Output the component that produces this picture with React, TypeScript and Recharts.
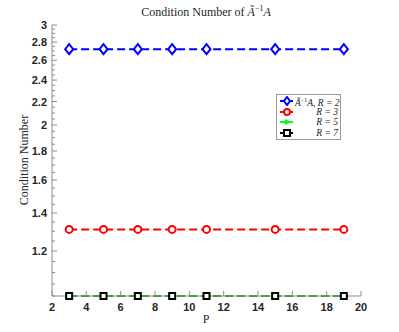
import React from 'react';
import { LineChart, Line, XAxis, YAxis } from 'recharts';

const pValues = [3, 5, 7, 9, 11, 15, 19];
const condR2 = [2.72, 2.72, 2.72, 2.72, 2.72, 2.72, 2.72];
const condR3 = [1.31, 1.31, 1.31, 1.31, 1.31, 1.31, 1.31];
const condR5 = [1.0, 1.0, 1.0, 1.0, 1.0, 1.0, 1.0];
const condR7 = [1.0, 1.0, 1.0, 1.0, 1.0, 1.0, 1.0];

const xTicks = [2, 4, 6, 8, 10, 12, 14, 16, 18, 20];
const yMajorTicks = [1.2, 1.4, 1.6, 1.8, 2, 2.2, 2.4, 2.6, 2.8, 3];
const yMinorTicks: number[] = [];
for (let i = 0; i <= 40; i++) yMinorTicks.push(Math.round((1 + i * 0.05) * 100) / 100);

const data = pValues.map((p, i) => ({
  p,
  r2: condR2[i],
  r3: condR3[i],
  r5: condR5[i],
  r7: condR7[i],
}));

const AXIS = '#8c8c8c';
const TICK_TEXT = '#262626';
const DASH = '8 4';

const isMajor = (v: number) => yMajorTicks.some((m) => Math.abs(m - v) < 1e-6);

function LeftTick({ x, y, payload }: any) {
  const major = isMajor(payload.value);
  return (
    <g>
      <line x1={x} x2={x + (major ? 5 : 3)} y1={y} y2={y} stroke={AXIS} />
      {major && (
        <text x={x - 5} y={y + 4} textAnchor="end" fontSize={11} fontWeight="bold" fill={TICK_TEXT} fontFamily="Liberation Sans, Arial">
          {payload.value}
        </text>
      )}
    </g>
  );
}

function RightTick({ x, y, payload }: any) {
  const major = isMajor(payload.value);
  return <line x1={x} x2={x - (major ? 5 : 3)} y1={y} y2={y} stroke={AXIS} />;
}

function BottomTick({ x, y, payload }: any) {
  return (
    <g>
      <line x1={x} x2={x} y1={y} y2={y - 5} stroke={AXIS} />
      <text x={x} y={y + 15} textAnchor="middle" fontSize={11} fontWeight="bold" fill={TICK_TEXT} fontFamily="Liberation Sans, Arial">
        {payload.value}
      </text>
    </g>
  );
}

function TopTick({ x, y }: any) {
  return <line x1={x} x2={x} y1={y} y2={y + 5} stroke={AXIS} />;
}

function DiamondDot({ cx, cy }: any) {
  return (
    <polygon
      key={`d-${cx}`}
      points={`${cx},${cy - 5} ${cx + 4},${cy} ${cx},${cy + 5} ${cx - 4},${cy}`}
      fill="#fff"
      stroke="#0000ff"
      strokeWidth={2}
    />
  );
}

function CircleDot({ cx, cy }: any) {
  return <circle key={`c-${cx}`} cx={cx} cy={cy} r={3.5} fill="#fff" stroke="#ff0000" strokeWidth={2} />;
}

function TriDot({ cx, cy }: any) {
  return (
    <polygon key={`t-${cx}`} points={`${cx - 3},${cy - 3} ${cx + 4},${cy} ${cx - 3},${cy + 3}`} fill="#00ff00" stroke="#00ff00" strokeWidth={1} />
  );
}

function SquareDot({ cx, cy }: any) {
  return <rect key={`s-${cx}`} x={cx - 3} y={cy - 3} width={6} height={6} fill="#fff" stroke="#000" strokeWidth={2} />;
}

function LegendRow({ color, marker, label }: { color: string; marker: React.ReactNode; label: React.ReactNode }) {
  return (
    <div style={{ display: 'flex', alignItems: 'center', height: 10.5 }}>
      <svg width={16} height={10} style={{ flex: 'none' }}>
        <line x1={1} x2={14} y1={5} y2={5} stroke={color} strokeWidth={2} />
        {marker}
      </svg>
      <div style={{ flex: 1, textAlign: 'right', fontStyle: 'italic', fontSize: 9.5, lineHeight: '10px', whiteSpace: 'nowrap' }}>{label}</div>
    </div>
  );
}

export default function App() {
  return (
    <div style={{ position: 'absolute', left: 0, top: 0, width: 399, height: 332, background: '#fff', fontFamily: 'Liberation Serif, Times New Roman, serif' }}>
      <LineChart width={399} height={332} data={data} margin={{ top: 25, right: 38, bottom: 6, left: 0 }}>
        <XAxis
          dataKey="p"
          type="number"
          domain={[2, 20]}
          ticks={xTicks}
          height={30}
          stroke={AXIS}
          tickSize={0}
          tickMargin={0}
          tick={<BottomTick />}
          interval={0}
        />
        <XAxis
          xAxisId="top"
          dataKey="p"
          type="number"
          orientation="top"
          domain={[2, 20]}
          ticks={xTicks}
          height={0}
          stroke={AXIS}
          tickSize={0}
          tickMargin={0}
          tick={<TopTick />}
          interval={0}
        />
        <YAxis
          scale="log"
          type="number"
          domain={[1, 3]}
          ticks={yMinorTicks}
          width={52}
          stroke={AXIS}
          tickSize={0}
          tickMargin={0}
          tick={<LeftTick />}
          interval={0}
        />
        <YAxis
          yAxisId="right"
          orientation="right"
          scale="log"
          type="number"
          domain={[1, 3]}
          ticks={yMinorTicks}
          width={0}
          stroke={AXIS}
          tickSize={0}
          tickMargin={0}
          tick={<RightTick />}
          interval={0}
        />
        <Line dataKey="r2" stroke="#0000ff" strokeWidth={2} strokeDasharray={DASH} dot={<DiamondDot />} isAnimationActive={false} />
        <Line dataKey="r3" stroke="#ff0000" strokeWidth={2} strokeDasharray={DASH} dot={<CircleDot />} isAnimationActive={false} />
        <Line dataKey="r7" stroke="#000000" strokeWidth={2} strokeDasharray={DASH} dot={false} isAnimationActive={false} />
        <Line dataKey="r5" stroke="#00b000" strokeWidth={2} strokeDasharray={DASH} dot={<TriDot />} isAnimationActive={false} />
        <Line dataKey="r7" stroke="none" dot={<SquareDot />} isAnimationActive={false} legendType="none" />
        <text x={206} y={16} textAnchor="middle" fontSize={12} fill="#262626" fontFamily="Liberation Serif, Times New Roman, serif">
          Condition Number of <tspan fontStyle="italic">Ã</tspan>
          <tspan fontSize={8} dy={-5}>−1</tspan>
          <tspan fontStyle="italic" dy={5}>A</tspan>
        </text>
        <text
          x={0}
          y={0}
          transform="translate(28,160) rotate(-90)"
          textAnchor="middle"
          fontSize={12}
          fill="#262626"
          fontFamily="Liberation Serif, Times New Roman, serif"
        >
          Condition Number
        </text>
        <text x={206} y={323} textAnchor="middle" fontSize={12} fill="#262626" fontFamily="Liberation Serif, Times New Roman, serif">
          P
        </text>
      </LineChart>
      <div
        style={{
          position: 'absolute',
          left: 276,
          top: 94,
          width: 59,
          padding: '1px 2px 1px 2px',
          border: '1px solid #999',
          background: '#fff',
          color: '#262626',
        }}
      >
        <LegendRow
          color="#0000ff"
          marker={<polygon points="8,1 11,5 8,9 5,5" fill="#fff" stroke="#0000ff" strokeWidth={2} />}
          label={
            <span>
              Ã<sup style={{ fontSize: 6, fontStyle: 'normal' }}>−1</sup>A, R = 2
            </span>
          }
        />
        <LegendRow color="#ff0000" marker={<circle cx={8} cy={5} r={3} fill="#fff" stroke="#ff0000" strokeWidth={2} />} label="R = 3" />
        <LegendRow color="#00ff00" marker={<polygon points="6,2 12,5 6,8" fill="#00ff00" />} label="R = 5" />
        <LegendRow color="#000" marker={<rect x={5} y={2} width={6} height={6} fill="#fff" stroke="#000" strokeWidth={2} />} label="R = 7" />
      </div>
    </div>
  );
}
